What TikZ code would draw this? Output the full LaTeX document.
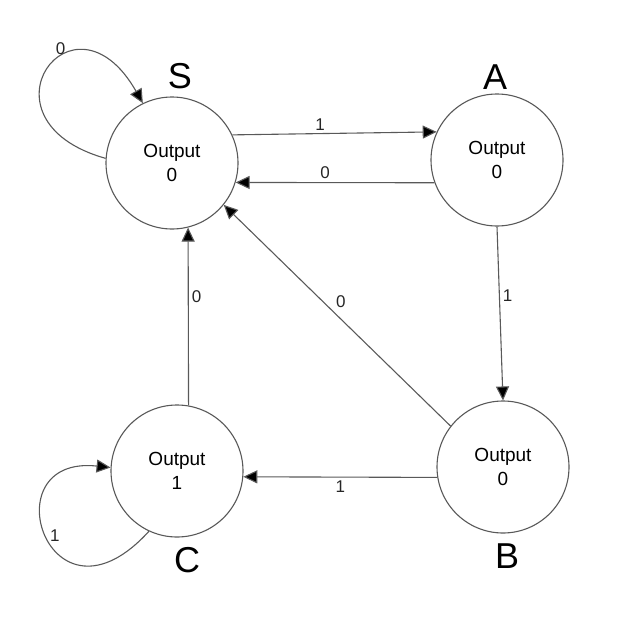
\documentclass[tikz,border=0pt]{standalone}
\usepackage{fontspec}
\setmainfont{Liberation Sans}
\usetikzlibrary{arrows.meta}

\begin{document}
\begin{tikzpicture}[x=1pt,y=1pt,
    line/.style={draw=black!65, line width=1.1pt},
    trans/.style={line, -{Triangle[length=14pt,width=13pt,fill=black]}},
    state/.style={circle, draw=black!65, line width=1.1pt, minimum size=132pt, inner sep=0pt,
      align=center, font=\fontsize{19}{24}\selectfont},
    letter/.style={inner sep=0pt, font=\fontsize{36}{40}\selectfont},
    lbl/.style={font=\fontsize{17}{20}\selectfont, text=black!85, inner sep=3pt}]
  \useasboundingbox (0,0) rectangle (626,-626);
  \node[state] (S) at (172,-163) {Output\\0};
  \node[state] (A) at (497,-160) {Output\\0};
  \node[state] (B) at (503,-467) {Output\\0};
  \node[state] (C) at (177,-471) {Output\\1};
  \node[letter] (Sl) at (180,-76) {S};
  \node[letter] (Al) at (495,-77) {A};
  \node[letter] (Bl) at (507,-556) {B};
  \node[letter] (Cl) at (187,-560) {C};
  \draw[trans] (S.25) -- node[lbl, pos=.43, above] {1} (A.155);
  \draw[trans] (A.-160) -- node[lbl, pos=.55, above] {0} (S.-17);
  \draw[trans] (A.south) -- node[lbl, pos=.4, right] {1} (B.north);
  \draw[trans] (B.189) -- node[lbl, pos=.5, below] {1} (C.-5);
  \draw[trans] (C.80) -- node[lbl, pos=.61, right] {0} (S.-76);
  \draw[trans] (B.142) -- node[lbl, pos=.52, above right] {0} (S.-39);
  %\draw[trans] (S.176) to[out=160,in=120,looseness=8] (S.116);
  \draw[trans] (S.176) .. controls +(-135,38) and +(-70,123) .. node[lbl, pos=.6, above] {0} (S.116);
  \draw[trans] (C.245) .. controls +(-100,-110) and +(-122,13) .. node[lbl, pos=.5, right] {1} (C.177);
\end{tikzpicture}
\end{document}
